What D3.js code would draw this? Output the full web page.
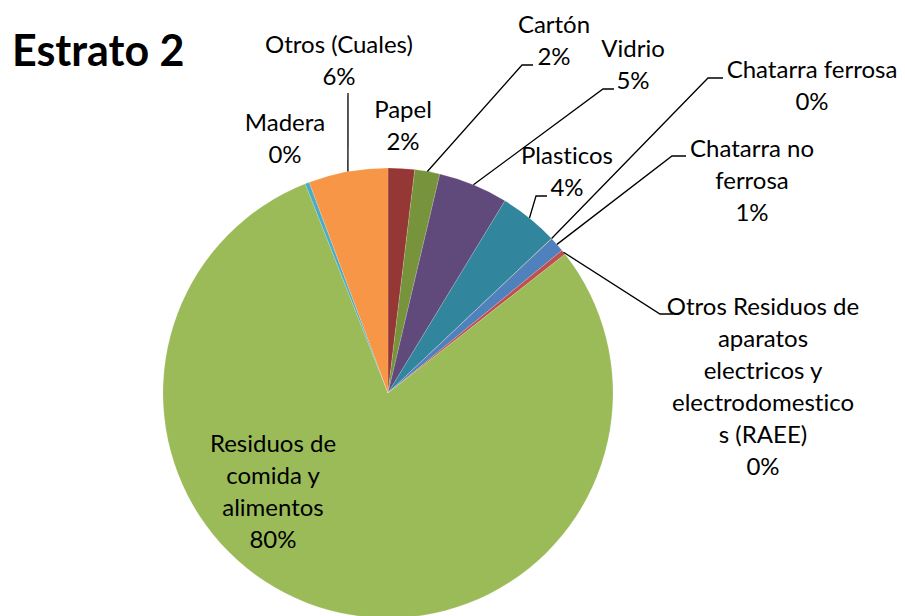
<!DOCTYPE html>
<html>
<head>
<meta charset="utf-8">
<script src="https://cdn.jsdelivr.net/npm/d3@7"></script>
<style>
  body { margin: 0; background: #fff; }
  text { font-family: Lato, "Open Sans", sans-serif; fill: #000; font-variant-ligatures: none; }
</style>
</head>
<body>
<script>
(function () {
  var categories,
    values,
    colors,
    labelLines,
    svg,
    pie,
    arc,
    arcs,
    g,
    width,
    height,
    cx,
    cy,
    radius,
    total,
    lineHeight;

  width = 905;
  height = 616;

  // clockwise from 12 o'clock
  categories = ['Papel', 'Cartón', 'Vidrio', 'Plasticos', 'Chatarra ferrosa',
    'Chatarra no ferrosa', 'Otros Residuos de aparatos electricos y electrodomesticos (RAEE)',
    'Residuos de comida y alimentos', 'Madera', 'Otros (Cuales)'];
  values = [1.9, 1.8, 5.0, 4.25, 0.02, 1.1, 0.35, 79.6, 0.3, 5.7];
  colors = ['#953735', '#77933C', '#604A7B', '#31859C', '#E46C0A',
    '#4F81BD', '#C0504D', '#9BBB59', '#4BACC6', '#F79646'];

  // label text lines (wrapped as in the chart), percent added below
  labelLines = [
    ['Papel'],
    ['Cartón'],
    ['Vidrio'],
    ['Plasticos'],
    ['Chatarra ferrosa'],
    ['Chatarra no', 'ferrosa'],
    ['Otros Residuos de', 'aparatos', 'electricos y', 'electrodomestico', 's (RAEE)'],
    ['Residuos de', 'comida y', 'alimentos'],
    ['Madera'],
    ['Otros (Cuales)']
  ];

  // label placement: centre x, first baseline y, leader elbow (or null)
  var labelPos = [
    { x: 403, y: 118, elbow: null },
    { x: 554, y: 33, elbow: [[522, 65], [533, 65]] },
    { x: 633, y: 57, elbow: [[603, 89], [614, 89]] },
    { x: 567, y: 164, elbow: [[536, 196], [547, 196]] },
    { x: 812, y: 78, elbow: [[708, 78], [723, 78]] },
    { x: 752, y: 157, elbow: [[672, 156], [686, 156]] },
    { x: 763, y: 315, elbow: [[660, 314], [673, 314]] },
    { x: 273, y: 452, elbow: null },
    { x: 285, y: 131, elbow: null },
    { x: 339, y: 53, elbow: [[348, 93]] }
  ];

  cx = 388;
  cy = 393;
  radius = 225;
  lineHeight = 32;
  total = d3.sum(values);

  svg = d3.select('body')
    .append('svg')
    .attr('width', width)
    .attr('height', height);

  svg.append('text')
    .attr('x', 12)
    .attr('y', 66)
    .style('font-size', '43px')
    .style('font-weight', 'bold')
    .text('Estrato 2');

  pie = d3.pie()
    .sort(null)
    .value(function (d) { return d; });

  arc = d3.arc()
    .innerRadius(0)
    .outerRadius(radius);

  var edge = d3.arc()
    .innerRadius(radius)
    .outerRadius(radius);

  arcs = pie(values);

  g = svg.append('g')
    .attr('transform', 'translate(' + cx + ',' + cy + ')');

  g.selectAll('path.slice')
    .data(arcs)
    .enter()
    .append('path')
    .attr('class', 'slice')
    .attr('d', arc)
    .attr('fill', function (d, i) { return colors[i]; })
    .attr('stroke', 'rgba(255,255,255,0.3)')
    .attr('stroke-width', 0.5);

  // leader lines
  arcs.forEach(function (d, i) {
    var p = labelPos[i],
      start,
      pts;
    if (!p.elbow) return;
    start = edge.centroid(d);
    pts = [[start[0] + cx, start[1] + cy]].concat(p.elbow);
    svg.append('path')
      .attr('d', d3.line()(pts))
      .attr('fill', 'none')
      .attr('stroke', '#000')
      .attr('stroke-width', 1.3);
  });

  // labels
  arcs.forEach(function (d, i) {
    var p = labelPos[i],
      lines = labelLines[i].concat([Math.round(d.data / total * 100) + '%']),
      t;
    t = svg.append('text')
      .attr('text-anchor', 'middle')
      .style('font-size', '24px');
    lines.forEach(function (s, k) {
      t.append('tspan')
        .attr('x', p.x)
        .attr('y', p.y + k * lineHeight)
        .text(s);
    });
  });

}());
</script>
</body>
</html>
